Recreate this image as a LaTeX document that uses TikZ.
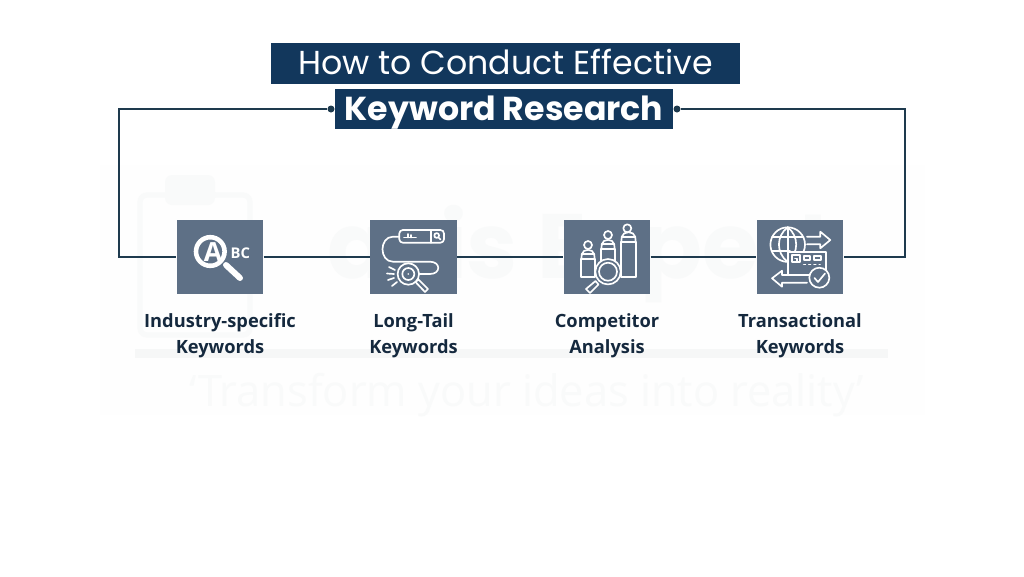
\documentclass[tikz,border=0pt]{standalone}
\usepackage{fontspec}
\setmainfont{Open Sans}
\newfontfamily\titlefont{Poppins}
\usetikzlibrary{arrows.meta,positioning,calc}
\definecolor{navy}{HTML}{12375C}
\definecolor{slate}{HTML}{5E7086}
\definecolor{wire}{HTML}{1E3A4E}
\definecolor{ink}{HTML}{15293E}
\definecolor{ghost}{HTML}{F9FAFA}
\definecolor{ghostbar}{HTML}{F6F7F7}
\definecolor{ghostbg}{HTML}{FEFEFE}
\tikzset{
  banner/.style={fill=navy,text=white,inner sep=0pt},
  tile/.style={fill=slate,minimum width=1.73cm,minimum height=1.48cm,inner sep=0pt},
  caption/.style={font=\fontsize{10.4}{14.7}\selectfont\bfseries,text=ink,align=center},
  wirejoint/.style={circle,fill=wire,minimum size=0.14cm,inner sep=0pt},
  link/.style={wire,line width=0.95pt},
  icon/.style={white,line width=0.95pt,line join=round,line cap=round},
  iconfill/.style={icon,fill=slate}
}
\begin{document}
\begin{tikzpicture}[x=0.02cm,y=-0.02cm]
\useasboundingbox (0,0) rectangle (1024,576);
\fill[white] (0,0) rectangle (1024,576);
% watermark
\fill[ghostbg] (100,165) rectangle (925,415);
\draw[ghost,line width=3pt,rounded corners=4pt] (140,195) rectangle (250,335);
\fill[ghost,rounded corners=4pt] (165,175) rectangle (215,205);
\node[inner sep=0pt,font=\titlefont\fontsize{52}{52}\selectfont\bfseries,text=ghost] (markname) at (581,254) {asis Expert};
\fill[ghostbar] (135,349) rectangle (888,358);
\node[inner sep=0pt,font=\fontsize{24.7}{24.7}\selectfont,text=ghost] (markline) at (527,395) {‘Transform your ideas into reality’};
% title
\node[banner,minimum width=9.38cm,minimum height=0.82cm,font=\titlefont\fontsize{18.9}{18.9}\selectfont] (head) at (505.5,63.5) {\raisebox{-6.5pt}[0pt][0pt]{How to Conduct Effective}};
\node[banner,minimum width=6.76cm,minimum height=0.8cm,font=\titlefont\fontsize{18.9}{18.9}\selectfont\bfseries] (subhead) at (504,109) {\raisebox{-6.8pt}[0pt][0pt]{Keyword Research}};
\node[wirejoint] (jointL) at (331,109) {};
\node[wirejoint] (jointR) at (677,109) {};
% tiles and captions
\foreach \i/\xc/\la/\lb in {1/220/Industry-specific/Keywords,2/413.5/Long-Tail/Keywords,3/607/Competitor/Analysis,4/800/Transactional/Keywords}{
  \node[tile] (tile\i) at (\xc,257) {};
  \node[caption] (cap\i) at (\xc,335.5) {\la\\\lb};
}
\coordinate (cornerL) at (119,257);
\coordinate (cornerR) at (905,257);
\draw[link] (jointL) -| (cornerL) -- (tile1);
\draw[link] (jointR) -| (cornerR) -- (tile4);
\foreach \a/\b in {1/2,2/3,3/4}{
  \draw[link] (tile\a) -- (tile\b);
}
% icon 1
\draw[white,line width=2.6pt] (210.3,251.5) circle (14.3);
\draw[white,line width=3.4pt,line cap=round] (226,265) -- (240,278);
\node[font=\fontsize{15}{15}\selectfont\bfseries,text=white,inner sep=0pt] (letterA) at (213,252) {A};
\node[font=\fontsize{8.4}{8.4}\selectfont\bfseries,text=white,inner sep=0pt] (letterBC) at (240.3,253.7) {BC};
% icon 2
\draw[icon] (399.3,236.7) -- (393,236.7) .. controls (379,236.7) and (379,261.7) .. (393,261.7) -- (430,261.7) .. controls (441,261.7) and (441,274) .. (430,274) -- (418,274);
\draw[icon,rounded corners=2pt] (399.3,230) rectangle (444,242.7);
\draw[icon] (430.7,230) -- (430.7,242.7);
\draw[icon] (404,237.5) -- (416,237.5) (408,237.5) -- (408,234) (411,237.5) -- (411,235);
\draw[icon] (436.7,235.5) circle (2.4) (438.5,237.5) -- (440.5,239.5);
\draw[iconfill] (408.3,274) circle (10.7);
\draw[icon] (408.3,274) circle (6);
\fill[white] (408.3,274) circle (0.9);
\draw[icon] (415.5,282) -- (418.5,279.5) -- (428,289) -- (425,292) -- cycle;
\draw[icon] (389,267) -- (395,270) (387,273.5) -- (394,274) (388,280) -- (394,278) (392,286) -- (397,282);
% icon 3
\foreach \xl/\xr/\yt/\hx/\hy in {581.3/594.7/259.3/588/245,601.3/614.7/249.3/608/235,621.3/635.7/241.7/627.3/228.3}{
  \draw[icon] (\xl,277.3) -- (\xl,\yt) -- (\xr,\yt) -- (\xr,277.3) -- cycle;
  \draw[icon] (\xl,\yt) -- (\xl+0.5,\yt-5) .. controls (\xl+1.5,\yt-11) and (\xr-1.5,\yt-11) .. (\xr-0.5,\yt-5) -- (\xr,\yt);
  \draw[icon] (\xl+0.5,\yt-5) -- (\xr-0.5,\yt-5);
  \draw[icon] (\hx,\hy) circle (4);
}
\draw[iconfill] (608,271.7) circle (12.7);
\draw[icon] (608,271.7) circle (9);
\draw[iconfill] (595.5,281) -- (598.5,284.5) -- (590,293) -- (586,289) -- cycle;
% icon 4
\draw[icon] (787.7,244.6) circle (17.3);
\draw[icon] (787.7,227.3) -- (787.7,262) (772,237) -- (803.5,237) (772,251) -- (790,251);
\draw[icon] (787.7,227.3) .. controls (776,236) and (776,253) .. (787.7,262);
\draw[icon] (787.7,227.3) .. controls (799,236) and (799,253) .. (787.7,262);
\draw[icon] (807,236.7) -- (820.3,236.7) -- (820.3,231.7) -- (830.3,240) -- (820.3,248.3) -- (820.3,244.3) -- (807,244.3);
\draw[iconfill] (787.7,251.7) rectangle (826.3,275);
\draw[icon] (792,255) rectangle (800.3,262.3);
\draw[icon] (803.7,256) rectangle (810.3,260) (813.7,256) rectangle (821,260);
\draw[icon,dotted] (803.7,264.5) -- (820,264.5);
\draw[icon] (795,258.5) -- (797,258.5) -- (797,261);
\draw[icon] (807,275) -- (782,275) -- (782,270.7) -- (772,278.3) -- (782,286.7) -- (782,282.7) -- (807,282.7);
\draw[iconfill] (819.3,277.7) circle (10);
\draw[icon] (814.5,278) -- (818,282) -- (825,273.5);
\end{tikzpicture}
\end{document}
